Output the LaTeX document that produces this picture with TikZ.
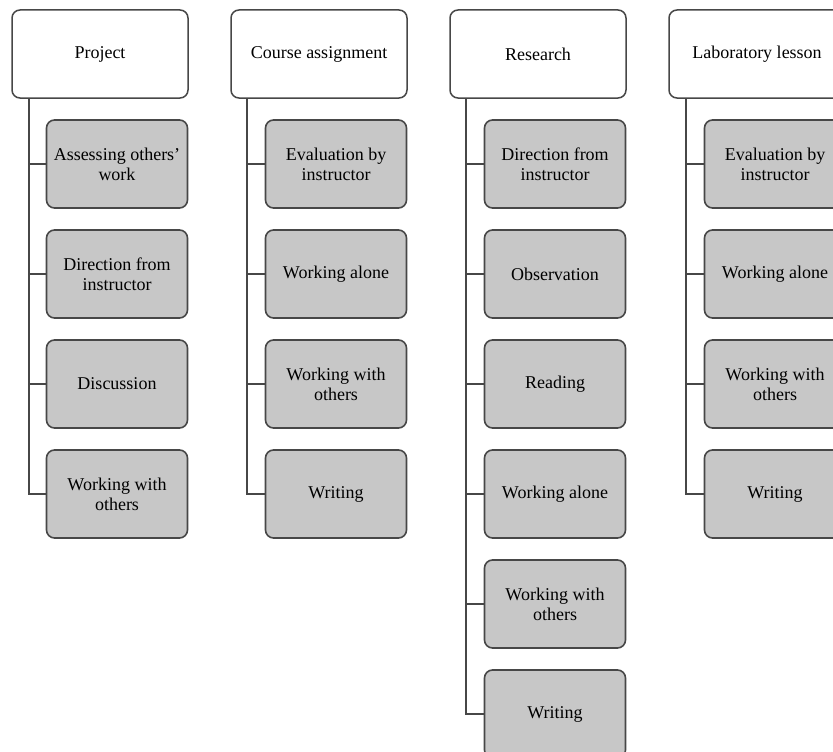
\documentclass[tikz,border=0pt]{standalone}
\usepackage{fontspec}
\setmainfont{Liberation Serif}
\begin{document}
\begin{tikzpicture}[x=1pt,y=-1pt,
  headbox/.style={draw=black!72, line width=1.5pt, rounded corners=8pt, fill=white,
    minimum width=176pt, minimum height=88pt, inner sep=0pt, align=center,
    font=\fontsize{18}{20}\selectfont},
  itembox/.style={draw=black!72, line width=1.6pt, rounded corners=8pt, fill=black!22,
    minimum width=141pt, minimum height=88pt, inner sep=0pt, align=center,
    font=\fontsize{18}{20}\selectfont},
  link/.style={draw=black!72, line width=1.6pt}]
\useasboundingbox (0,0) rectangle (833,752);
\clip (0,0) rectangle (833,752);
% headers
\node[headbox] (h1) at (100,54) {Project};
\node[headbox] (h2) at (319,54) {Course assignment};
\node[headbox] (h3) at (538,54) {Research};
\node[headbox] (h4) at (757,54) {Laboratory lesson};
% column 1
\node[itembox] (c11) at (117,164) {Assessing others’\\work};
\node[itembox] (c12) at (117,274) {Direction from\\instructor};
\node[itembox] (c13) at (117,384) {Discussion};
\node[itembox] (c14) at (117,494) {Working with\\others};
% column 2
\node[itembox] (c21) at (336,164) {Evaluation by\\instructor};
\node[itembox] (c22) at (336,274) {Working alone};
\node[itembox] (c23) at (336,384) {Working with\\others};
\node[itembox] (c24) at (336,494) {Writing};
% column 3
\node[itembox] (c31) at (555,164) {Direction from\\instructor};
\node[itembox] (c32) at (555,274) {Observation};
\node[itembox] (c33) at (555,384) {Reading};
\node[itembox] (c34) at (555,494) {Working alone};
\node[itembox] (c35) at (555,604) {Working with\\others};
\node[itembox] (c36) at (555,714) {Writing};
% column 4
\node[itembox] (c41) at (775,164) {Evaluation by\\instructor};
\node[itembox] (c42) at (775,274) {Working alone};
\node[itembox] (c43) at (775,384) {Working with\\others};
\node[itembox] (c44) at (775,494) {Writing};
% connectors
\coordinate (t1) at ([xshift=18pt]h1.south west);
\coordinate (t2) at ([xshift=17pt]h2.south west);
\coordinate (t3) at ([xshift=17pt]h3.south west);
\coordinate (t4) at ([xshift=18pt]h4.south west);
\draw[link] (t1) |- (c14.west);
\foreach \i in {1,2,3} \draw[link] (c1\i.west) -- (t1 |- c1\i.west);
\draw[link] (t2) |- (c24.west);
\foreach \i in {1,2,3} \draw[link] (c2\i.west) -- (t2 |- c2\i.west);
\draw[link] (t3) |- (c36.west);
\foreach \i in {1,2,3,4,5} \draw[link] (c3\i.west) -- (t3 |- c3\i.west);
\draw[link] (t4) |- (c44.west);
\foreach \i in {1,2,3} \draw[link] (c4\i.west) -- (t4 |- c4\i.west);
\end{tikzpicture}
\end{document}
